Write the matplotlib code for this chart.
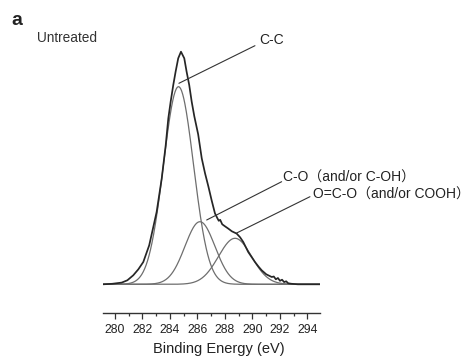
import numpy as np
import matplotlib
matplotlib.use("Agg")
import matplotlib.pyplot as plt
from matplotlib.ticker import MultipleLocator

# ---- data (intensity in arbitrary units) ----
energy_env = [279.13, 279.80, 280.49, 280.90, 281.33, 281.70, 282.06, 282.49,
              282.75, 283.03, 283.40, 283.69, 283.88, 284.05, 284.24, 284.41,
              284.60, 284.80, 285.04, 285.21, 285.40, 285.58, 285.77, 286.05,
              286.31, 286.55, 286.79, 287.03, 287.27, 287.45, 287.55, 287.65,
              287.80, 288.00, 288.24, 288.50, 288.85, 289.10, 289.33, 289.69,
              289.95, 290.18, 290.45, 290.67, 291.00, 291.40, 291.55, 291.70,
              291.85, 292.00, 292.15, 292.30, 292.45, 292.60, 292.85, 293.30,
              294.91]
counts_env = [0.0, 0.5, 1.7, 4.0, 9.0, 15.0, 22.3, 39.0,
              55.0, 72.3, 105.7, 139.0, 166.0, 182.6, 199.3, 212.6,
              226.0, 232.6, 226.0, 212.6, 199.3, 182.6, 168.0, 150.0,
              126.0, 111.0, 98.0, 84.0, 71.0, 66.0, 63.5, 64.5,
              60.0, 58.0, 55.7, 53.0, 50.7, 47.0, 42.3, 32.3,
              27.0, 22.3, 17.5, 14.0, 10.0, 7.3, 7.8, 5.0,
              6.3, 3.5, 4.6, 2.2, 3.0, 1.0, 0.5, 0.0,
              0.0]

peak_names = ["C-C", "C-O", "O=C-O"]
peak_centers = [284.62, 286.18, 288.73]
peak_heights = [197.6, 62.6, 46.0]
peak_fwhm = [2.57, 2.57, 2.83]

label_texts = ["C-C", "C-O（and/or C-OH）", "O=C-O（and/or COOH）"]
x_ticks = [280, 282, 284, 286, 288, 290, 292, 294]

W, H = 472, 356
fig = plt.figure(figsize=(W / 100, H / 100), dpi=100)
ax = fig.add_axes([103 / W, 43 / H, 217 / W, (313 - 34.3) / H])
ax.set_xlim(279.13, 294.91)
ax.set_ylim(-28.7, 250)

grid = np.linspace(279.13, 294.91, 600)
for c, h, f in zip(peak_centers, peak_heights, peak_fwhm):
    s = f / 2.3548
    ax.plot(grid, h * np.exp(-0.5 * ((grid - c) / s) ** 2),
            color="#6e6e6e", lw=0.9, solid_capstyle="round")
ax.plot(energy_env, counts_env, color="#262626", lw=1.25)

for sp in ["left", "right", "top"]:
    ax.spines[sp].set_visible(False)
ax.spines["bottom"].set_color("#333333")
ax.spines["bottom"].set_linewidth(1.0)
ax.set_yticks([])
ax.set_xticks(x_ticks)
ax.xaxis.set_minor_locator(MultipleLocator(1))
ax.tick_params(axis="x", which="major", length=4.5, width=0.9, color="#333333",
               pad=3.5, labelsize=8.8, labelcolor="#222222")
ax.tick_params(axis="x", which="minor", length=2.5, width=0.9, color="#333333")
for lab in ax.get_xticklabels():
    lab.set_fontfamily("Liberation Sans")

lblfont = ["Liberation Sans", "Noto Sans CJK SC"]
# leader lines and labels (label anchor, point on curve)
label_pos = [(290.47, 244.8), (292.22, 106.3), (294.40, 89.8)]
line_start = [(290.18, 238.6), (292.12, 102.6), (294.18, 87.6)]
line_end = [(284.65, 201.0), (286.67, 64.3), (288.85, 51.3)]
for txt, lp, ls, le in zip(label_texts, label_pos, line_start, line_end):
    ax.annotate("", xy=le, xytext=ls,
                arrowprops=dict(arrowstyle="-", color="#333333", lw=0.8,
                                shrinkA=0, shrinkB=0), annotation_clip=False)
    ax.text(lp[0], lp[1], txt, fontsize=10.0, family=lblfont, color="#222222",
            ha="left", va="center", clip_on=False)

fig.text(11 / W, 1 - 25 / H, "a", fontsize=14, fontweight="bold",
         family="Liberation Sans", color="#222222", ha="left", va="baseline")
fig.text(36.5 / W, 1 - 38 / H, "Untreated", fontsize=9.8,
         family="Liberation Sans", color="#333333", ha="left", va="center")
fig.text(219 / W, 1 - 349 / H, "Binding Energy (eV)", fontsize=10.5,
         family="Liberation Sans", color="#222222", ha="center", va="center")

fig.savefig("out.png", dpi=100, facecolor="white")
